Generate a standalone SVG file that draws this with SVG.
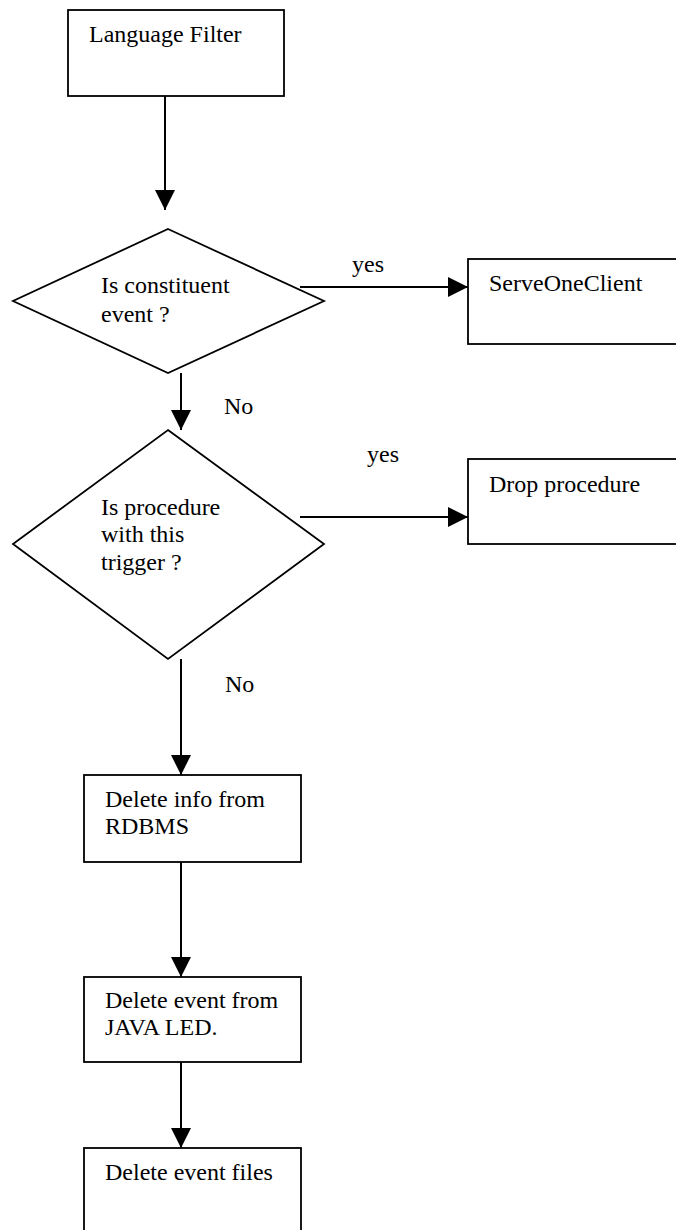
<svg xmlns="http://www.w3.org/2000/svg" width="676" height="1230" viewBox="0 0 676 1230">
  <style>
    .shape { fill: #ffffff; stroke: #000000; stroke-width: 1.8; }
    .edge { fill: none; stroke: #000000; stroke-width: 2; }
    text { font-family: "Liberation Serif", "Times New Roman", serif; font-size: 24px; fill: #000000; }
  </style>
  <defs>
    <marker id="arrow" viewBox="0 0 20 20" refX="20" refY="10" markerWidth="20" markerHeight="20" markerUnits="userSpaceOnUse" orient="auto">
      <path d="M0,0 L20,10 L0,20 Z" fill="#000000"/>
    </marker>
  </defs>
  <rect width="676" height="1230" fill="#ffffff"/>

  <!-- connectors -->
  <g id="connectors">
    <line class="edge" x1="165" y1="96" x2="165" y2="210" marker-end="url(#arrow)"/>
    <line class="edge" x1="300" y1="287" x2="468" y2="287" marker-end="url(#arrow)"/>
    <text x="352" y="272">yes</text>
    <line class="edge" x1="181" y1="373" x2="181" y2="430" marker-end="url(#arrow)"/>
    <text x="224" y="414">No</text>
    <line class="edge" x1="300" y1="517" x2="468" y2="517" marker-end="url(#arrow)"/>
    <text x="367" y="462">yes</text>
    <line class="edge" x1="181" y1="659" x2="181" y2="775" marker-end="url(#arrow)"/>
    <text x="225" y="692">No</text>
    <line class="edge" x1="181" y1="862" x2="181" y2="977" marker-end="url(#arrow)"/>
    <line class="edge" x1="181" y1="1062" x2="181" y2="1148" marker-end="url(#arrow)"/>
  </g>

  <!-- nodes -->
  <g id="language-filter">
    <rect class="shape" x="68" y="10" width="216" height="86"/>
    <text x="89" y="42">Language Filter</text>
  </g>
  <g id="is-constituent">
    <polygon class="shape" points="168,229 324,301 168,373 13,301"/>
    <text x="101" y="293">Is constituent</text>
    <text x="101" y="322">event ?</text>
  </g>
  <g id="serve-one-client">
    <rect class="shape" x="468" y="259" width="220" height="85"/>
    <text x="489" y="291">ServeOneClient</text>
  </g>
  <g id="is-procedure">
    <polygon class="shape" points="168,430 324,544 168,659 13,544"/>
    <text x="101" y="515">Is procedure</text>
    <text x="101" y="542">with this</text>
    <text x="101" y="570">trigger ?</text>
  </g>
  <g id="drop-procedure">
    <rect class="shape" x="468" y="459" width="220" height="85"/>
    <text x="489" y="492">Drop procedure</text>
  </g>
  <g id="delete-info">
    <rect class="shape" x="84" y="775" width="217" height="87"/>
    <text x="105" y="807">Delete info from</text>
    <text x="105" y="834">RDBMS</text>
  </g>
  <g id="delete-event-led">
    <rect class="shape" x="84" y="977" width="217" height="85"/>
    <text x="105" y="1008">Delete event from</text>
    <text x="105" y="1035">JAVA LED.</text>
  </g>
  <g id="delete-event-files">
    <rect class="shape" x="84" y="1148" width="217" height="100"/>
    <text x="105" y="1180">Delete event files</text>
  </g>
</svg>
